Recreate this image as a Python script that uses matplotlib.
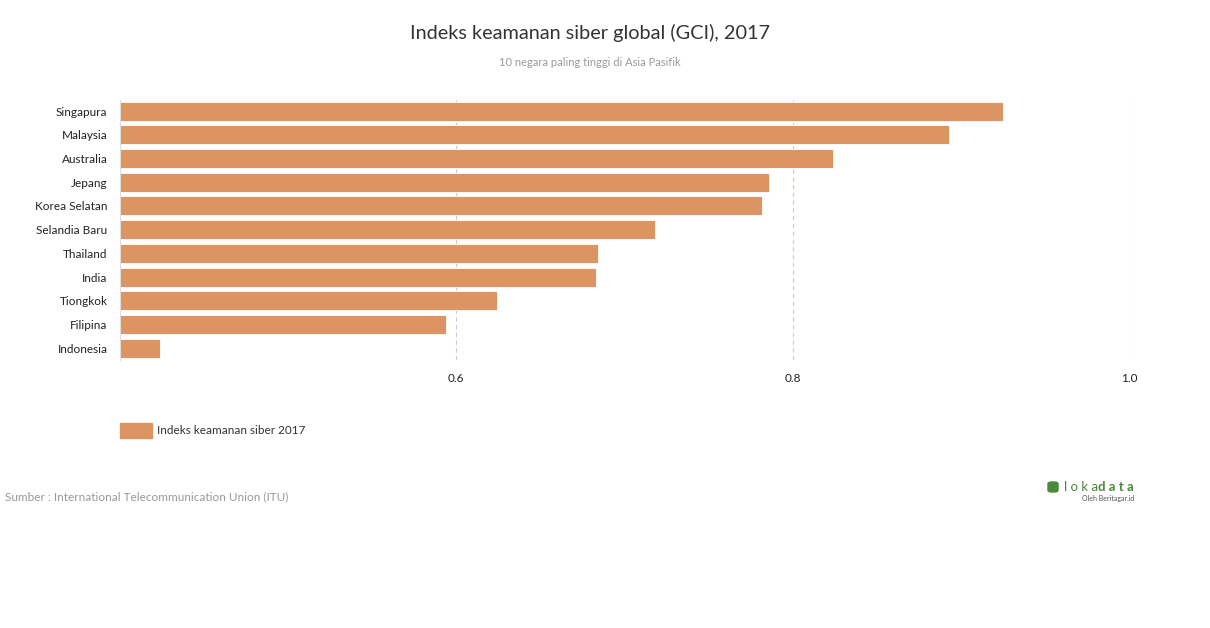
import matplotlib.pyplot as plt
import matplotlib.patches as mpatches

plt.rcParams['font.family'] = ['Lato', 'DejaVu Sans']

# data
negara = ['Singapura', 'Malaysia', 'Australia', 'Jepang', 'Korea Selatan',
          'Selandia Baru', 'Thailand', 'India', 'Tiongkok', 'Filipina', 'Indonesia']
gci = [0.925, 0.893, 0.824, 0.786, 0.782, 0.718, 0.684, 0.683, 0.624, 0.594, 0.424]
ticks = [0.6, 0.8, 1.0]

warna = '#DC9562'

fig = plt.figure(figsize=(12.1, 6.28), dpi=100)
ax = fig.add_axes([120/1210, 1-360/628, (1129-120)/1210, 260/628])

y = list(range(len(negara)))[::-1]
ax.barh(y, [v - 0.4 for v in gci], left=0.4, height=0.8, color=warna,
        edgecolor='white', linewidth=0.6, zorder=2)
ax.set_xlim(0.4, 1.0)
ax.set_ylim(-0.5, len(negara) - 0.53)
ax.set_yticks(y)
ax.set_yticklabels(negara, fontsize=8.5, color='#222222')
ax.set_xticks(ticks)
ax.set_xticklabels([f'{t:.1f}' for t in ticks], fontsize=8.5, color='#222222')
ax.tick_params(axis='both', length=0)
ax.tick_params(axis='x', pad=9)
ax.tick_params(axis='y', pad=9)
for t in ticks:
    ax.axvline(t, color='#cccccc', linestyle=(0, (4, 3)), linewidth=0.8, zorder=1)
for s in ['top', 'right', 'bottom']:
    ax.spines[s].set_visible(False)
ax.spines['left'].set_color('#dddddd')
ax.spines['left'].set_linewidth(0.8)

fig.text(590/1210, 1-33/628, 'Indeks keamanan siber global (GCI), 2017',
         ha='center', va='center', fontsize=14.3, color='#333333')
fig.text(590/1210, 1-62/628, '10 negara paling tinggi di Asia Pasifik',
         ha='center', va='center', fontsize=8, color='#999999')

# legend
fig.patches.append(mpatches.Rectangle((120/1210, 1-438/628), 32/1210, 15/628,
                                      transform=fig.transFigure, color=warna))
fig.text(157/1210, 1-431/628, 'Indeks keamanan siber 2017', ha='left', va='center',
         fontsize=8.5, color='#333333')

fig.text(5/1210, 1-497/628, 'Sumber : International Telecommunication Union (ITU)',
         ha='left', va='center', fontsize=8.5, color='#999999')

# logo
fig.patches.append(mpatches.FancyBboxPatch((1048/1210, 1-492/628), 10/1210, 10/628,
                                           boxstyle='round,pad=0,rounding_size=0.003',
                                           transform=fig.transFigure, color='#4a8a3c'))
fig.text(1064/1210, 1-487/628, 'l o k a', ha='left', va='center', fontsize=9.5, color='#4a8a3c')
fig.text(1098/1210, 1-487/628, 'd a t a', ha='left', va='center', fontsize=9.5,
         color='#4a8a3c', fontweight='bold')
fig.text(1134/1210, 1-498/628, 'Oleh Beritagar.id', ha='right', va='center',
         fontsize=5, color='#555555')

fig.savefig('out.png', dpi=100)
